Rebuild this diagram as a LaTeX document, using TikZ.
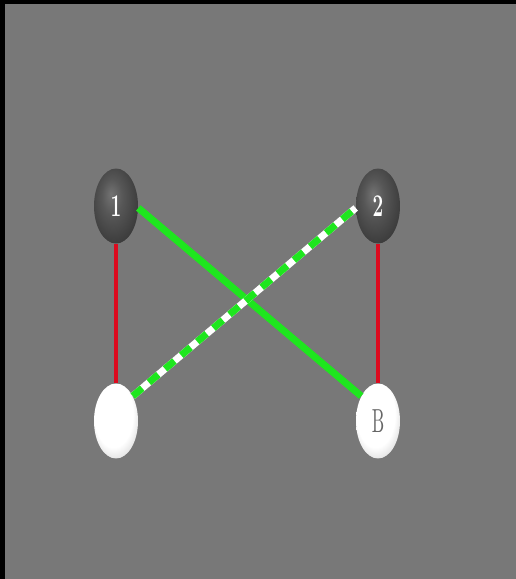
\documentclass[tikz,border=0pt]{standalone}
\usepackage{tikz}
\usetikzlibrary{shapes.geometric}
\definecolor{Backdrop}{HTML}{787878}
\definecolor{BondRed}{HTML}{DC0A1E}
\definecolor{BondGreen}{HTML}{1EE61E}
\pgfdeclareradialshading{paleball}{\pgfpoint{-5bp}{8bp}}{%
  color(0bp)=(white); color(22bp)=(white); color(30bp)=(black!12);
  color(38bp)=(black!40); color(50bp)=(black!60)}
\pgfdeclareradialshading{darkball}{\pgfpoint{-6bp}{8bp}}{%
  color(0bp)=(black!55); color(12bp)=(black!66); color(28bp)=(black!76);
  color(40bp)=(black!85); color(50bp)=(black!93)}
\tikzset{
  atom/.style={ellipse, inner sep=0pt, minimum width=0.88cm,
    minimum height=1.5cm, shading=#1},
  atom/.default={darkball},
  redbond/.style={draw=BondRed, line width=2.4pt},
  greenbond/.style={draw=BondGreen, line width=4pt},
}

\begin{document}
\begin{tikzpicture}[x=0.02cm, y=-0.02cm,
  darkatom/.style={atom, text=white, font=\bfseries\large},
  lightatom/.style={atom=paleball, text=black!60},
]
  % frame and backdrop
  \fill[black] (0,0) rectangle (516,579);
  \fill[Backdrop] (5,4) rectangle (516,579);
  \useasboundingbox (0,0) rectangle (516,579);

  \node[darkatom] (a1) at (116,206) {\scalebox{0.9}[1.5]{1}};
  \node[darkatom] (a2) at (378,206) {\scalebox{0.9}[1.5]{2}};
  \node[lightatom] (a3) at (116,421) {};
  \node[lightatom] (ab) at (378,421) {\scalebox{1}[1.9]{B}};

  \draw[redbond] (a1.south) -- (a3.north);
  \draw[redbond] (a2.south) -- (ab.north);
  \draw[greenbond] (a1.-5) -- (ab.124);
  \draw[greenbond, draw=white] (a3.56) -- (a2.185);
  \draw[greenbond, dash pattern=on 7pt off 5pt] (a3.56) -- (a2.185);
\end{tikzpicture}
\end{document}
